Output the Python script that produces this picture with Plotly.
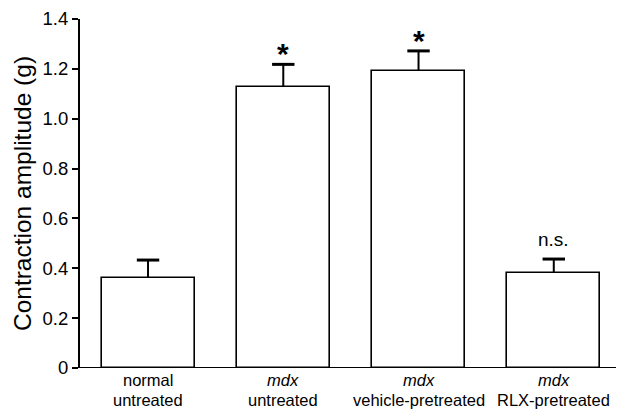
import plotly.graph_objects as go

line1 = ["normal", "<i>mdx</i>", "<i>mdx</i>", "<i>mdx</i>"]
line2 = ["untreated", "untreated", "vehicle-pretreated", "RLX-pretreated"]
means = [0.361, 1.127, 1.193, 0.381]
sem = [0.072, 0.091, 0.079, 0.056]
marks = ["*", "*", "n.s."]
mark_idx = [1, 2, 3]
ytick_vals = [0, 0.2, 0.4, 0.6, 0.8, 1.0, 1.2, 1.4]
ytick_text = ["0", "0.2", "0.4", "0.6", "0.8", "1.0", "1.2", "1.4"]

xpos = list(range(len(means)))
tops = [m + s for m, s in zip(means, sem)]
FONT = "Arial, Liberation Sans, sans-serif"

fig = go.Figure()
fig.add_trace(go.Bar(
    x=xpos, y=means, width=0.688,
    marker=dict(color="white", line=dict(color="black", width=1.6)),
    showlegend=False, hoverinfo="skip",
))

# error bar stems
sx, sy = [], []
for x, m, t in zip(xpos, means, tops):
    sx += [x, x, None]
    sy += [m, t, None]
fig.add_trace(go.Scatter(x=sx, y=sy, mode="lines", line=dict(color="black", width=2),
                         showlegend=False, hoverinfo="skip"))
# caps
fig.add_trace(go.Scatter(x=xpos, y=tops, mode="markers",
                         marker=dict(symbol="line-ew", size=16, line=dict(color="black", width=3)),
                         showlegend=False, hoverinfo="skip"))

for i, m in zip(mark_idx, marks):
    if m == "*":
        fig.add_annotation(x=xpos[i], y=tops[i], text="<b>*</b>", showarrow=False,
                           yanchor="bottom", yshift=-8,
                           font=dict(family=FONT, size=30, color="black"))
    else:
        fig.add_annotation(x=xpos[i], y=tops[i], text=m, showarrow=False,
                           yanchor="bottom", yshift=7,
                           font=dict(family=FONT, size=19, color="black"))

for i in xpos:
    fig.add_annotation(x=xpos[i], xref="x", yref="paper", y=-0.0358, text=line1[i],
                       showarrow=False, yanchor="middle",
                       font=dict(family=FONT, size=16.5, color="black"))
    fig.add_annotation(x=xpos[i], xref="x", yref="paper", y=-0.0903, text=line2[i],
                       showarrow=False, yanchor="middle",
                       font=dict(family=FONT, size=16.5, color="black"))

fig.add_shape(type="line", xref="paper", yref="y", x0=-0.013, x1=1, y0=0, y1=0,
              line=dict(color="black", width=2.2))

fig.update_layout(
    width=621, height=409,
    margin=dict(l=80, r=5, t=19, b=41),
    plot_bgcolor="white", paper_bgcolor="white",
    font=dict(family=FONT, color="black"),
    bargap=0,
)
fig.update_xaxes(
    range=[-0.503, 3.46], showticklabels=False,
    showline=False, ticks="", showgrid=False, zeroline=False,
)
fig.update_yaxes(
    range=[0, 1.4], tickvals=ytick_vals, ticktext=ytick_text,
    showline=True, linecolor="black", linewidth=2, ticks="outside", ticklen=6,
    tickwidth=2, tickcolor="black", showgrid=False, zeroline=False,
    tickfont=dict(size=18.5, family=FONT, color="black"),
    title=dict(text="Contraction amplitude (g)", font=dict(size=24.5, family=FONT, color="black"),
               standoff=4),
)

fig.write_html("out.html")
